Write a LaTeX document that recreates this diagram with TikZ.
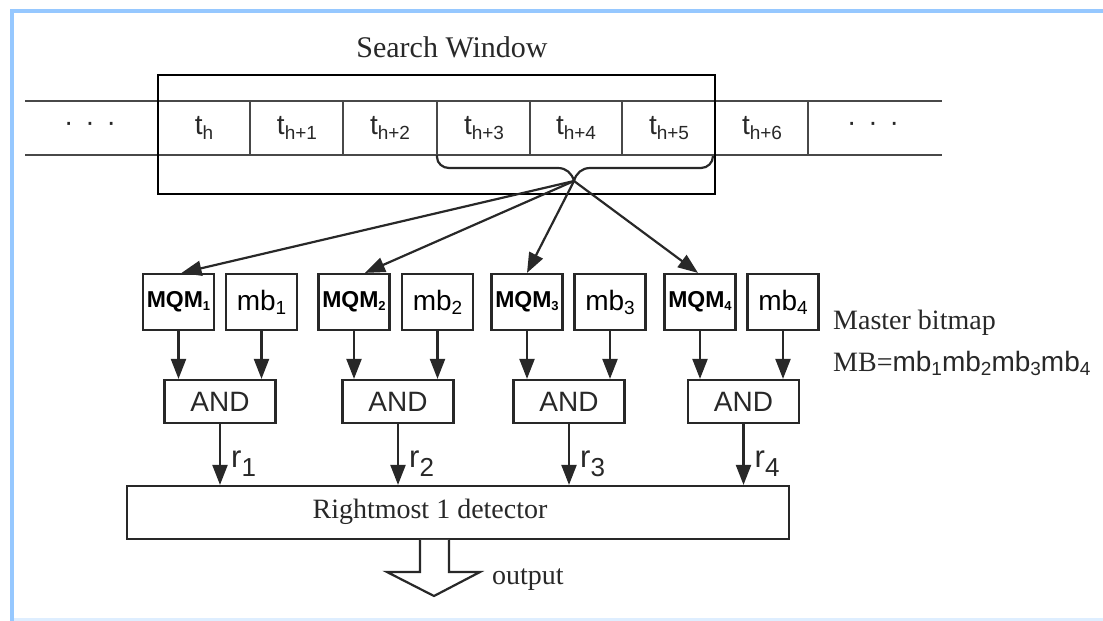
\documentclass[tikz,border=0pt]{standalone}
\usepackage{fontspec}
\setmainfont{Liberation Serif}
\newfontfamily\arial{Liberation Sans}
\usetikzlibrary{arrows.meta,calc}

\definecolor{framebl}{RGB}{150,200,255}
\definecolor{framefaint}{RGB}{222,238,255}
\definecolor{ink}{RGB}{40,40,40}

\tikzset{
  wire/.style={draw=ink, line width=2.2pt},
  arr/.style={wire, -{Triangle[length=20pt,width=15pt]}},
  unitbox/.style={draw=ink, line width=2.2pt, minimum width=71pt, minimum height=56pt,
    inner sep=0pt, fill=white, text=black},
  andbox/.style={draw=ink, line width=2.2pt, minimum width=111pt, minimum height=43pt,
    inner sep=0pt, font=\arial\fontsize{28}{28}\selectfont, text=ink},
  celltxt/.style={font=\arial\fontsize{28}{28}\selectfont, text=ink, inner sep=0pt},
  serif/.style={font=\fontsize{28}{30}\selectfont, text=ink, inner sep=0pt},
  rlabel/.style={font=\arial\fontsize{31}{31}\selectfont, text=ink, inner sep=0pt, anchor=west},
}
\newcommand\tcell[1]{t\raisebox{-5pt}{\fontsize{19}{19}\selectfont #1}}
\newcommand\mqmtxt[1]{{\arial\fontsize{23}{23}\selectfont\bfseries MQM\raisebox{-3pt}{\fontsize{13}{13}\selectfont #1}}}
\newcommand\mbtxt[1]{{\arial\fontsize{28}{28}\selectfont mb\raisebox{-4pt}{\fontsize{19}{19}\selectfont #1}}}
\newcommand\rtxt[1]{r\raisebox{-9pt}{\fontsize{26}{26}\selectfont #1}}
\newcommand\mbsub[1]{mb\raisebox{-4pt}{\fontsize{19}{19}\selectfont #1}}

\begin{document}
\begin{tikzpicture}[x=1pt,y=-1pt]
\useasboundingbox (0,0) rectangle (1103,621);

% frame
\draw[framefaint, line width=3pt] (12,619.5) -- (1103,619.5);
\draw[framebl, line width=4pt] (11.5,621) -- (11.5,10.5) -- (1103,10.5);

% tape
\draw[ink!85, line width=2.2pt] (25,101) -- (942,101);
\draw[ink!85, line width=2.2pt] (25,155) -- (942,155);
\foreach \x in {250,343,437,530,622,808}
  \draw[ink!85, line width=2.2pt] (\x,101) -- (\x,155);

\node[celltxt] (dotsL) at (90,127) {·\hspace{12pt}·\hspace{12pt}·};
\node[celltxt] (c0) at (204,128) {\tcell{h}};
\node[celltxt] (c1) at (297,128) {\tcell{h+1}};
\node[celltxt] (c2) at (390,128) {\tcell{h+2}};
\node[celltxt] (c3) at (484,128) {\tcell{h+3}};
\node[celltxt] (c4) at (576,128) {\tcell{h+4}};
\node[celltxt] (c5) at (669,128) {\tcell{h+5}};
\node[celltxt] (c6) at (762,128) {\tcell{h+6}};
\node[celltxt] (dotsR) at (873,127) {·\hspace{12pt}·\hspace{12pt}·};

% search window
\draw[black, line width=2.6pt] (158,75) rectangle (715,194);
\node[serif, font=\fontsize{30}{32}\selectfont] (sw) at (452,47) {Search Window};

% brace under t_{h+3} .. t_{h+5}
\coordinate (tip) at (574,181);
\draw[wire] (437,155) -- (437,157) to[out=-90,in=180] (449,168) -- (558,168)
  to[out=0,in=105] (tip);
\draw[wire] (tip) to[out=75,in=180] (590,168) -- (701,168)
  to[out=0,in=-90] (713,156);

% MQM and mb units
\node[unitbox] (q1) at (178.5,302) {\mqmtxt{1}};
\node[unitbox] (b1) at (261.5,302) {\mbtxt{1}};
\node[unitbox] (q2) at (354,302) {\mqmtxt{2}};
\node[unitbox] (b2) at (437.5,302) {\mbtxt{2}};
\node[unitbox] (q3) at (527,302) {\mqmtxt{3}};
\node[unitbox] (b3) at (610,302) {\mbtxt{3}};
\node[unitbox] (q4) at (700,302) {\mqmtxt{4}};
\node[unitbox] (b4) at (783,302) {\mbtxt{4}};

% fan-out from the brace
\draw[arr] (tip) -- ([xshift=3pt]q1.north);
\draw[arr] (tip) -- ([xshift=11pt]q2.north);
\draw[arr] (tip) -- (q3.north);
\draw[arr] (tip) -- ([xshift=-2pt]q4.north);

% AND gates
\node[andbox] (a1) at (220,401.5) {AND};
\node[andbox] (a2) at (398,401.5) {AND};
\node[andbox] (a3) at (569,401.5) {AND};
\node[andbox] (a4) at (743.5,401.5) {AND};

\foreach \i in {1,2,3,4}{
  \draw[arr] (q\i.south) -- (q\i.south |- a\i.north);
  \draw[arr] (b\i.south) -- (b\i.south |- a\i.north);
}

% detector
\node[draw=ink, line width=2.2pt, minimum width=662pt, minimum height=53pt, inner sep=0pt]
  (det) at (458,512.5) {};
\node[serif] (dettxt) at (430,512) {Rightmost 1 detector};

\foreach \i in {1,2,3,4}{
  \draw[arr] (a\i.south) -- (a\i.south |- det.north);
  \node[rlabel] (r\i) at ($(a\i.south)+(11,40)$) {\rtxt{\i}};
}

% output arrow
\draw[wire, fill=white, line join=miter] (420,539.9) -- (420,572) -- (387,572) -- (434,596)
  -- (480,572) -- (449,572) -- (449,539.9);
\node[serif, anchor=west] (out) at (492,580) {output};

% master bitmap note
\node[serif, anchor=west] (mbn1) at (833,323) {Master bitmap};
\node[serif, anchor=west] (mbn2) at (833,363) {MB={\arial\mbsub{1}\mbsub{2}\mbsub{3}\mbsub{4}}};

\end{tikzpicture}
\end{document}
